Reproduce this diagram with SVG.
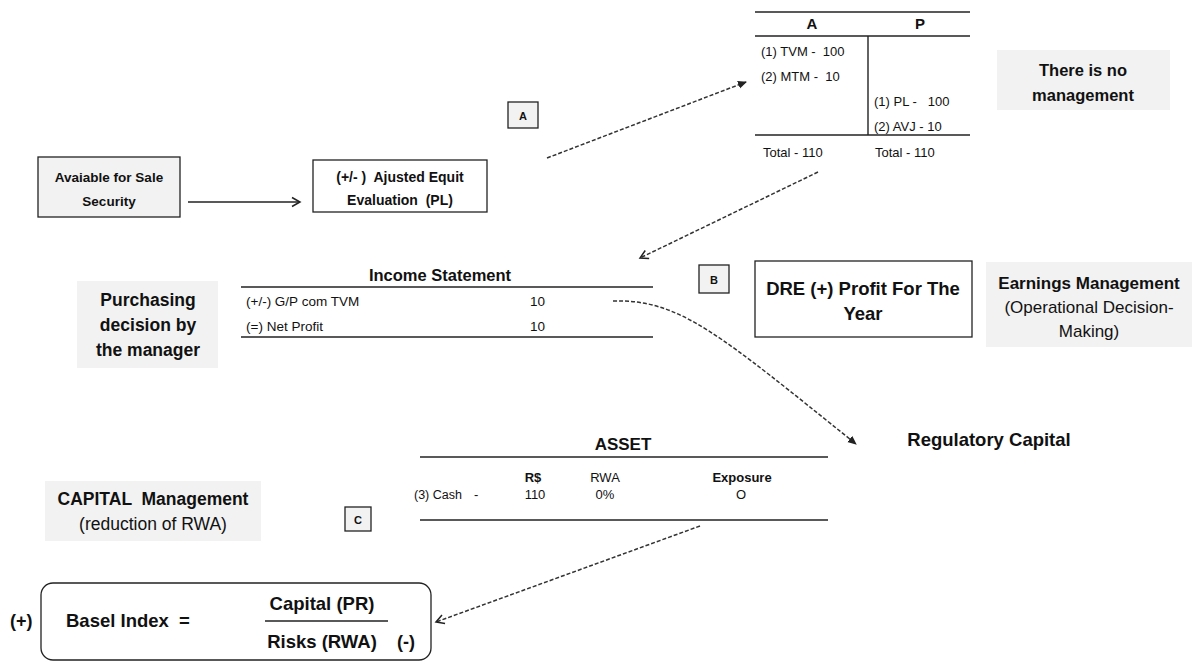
<svg xmlns="http://www.w3.org/2000/svg" width="1198" height="662" viewBox="0 0 1198 662">
<style>
text{white-space:pre}
.t{font-family:"Liberation Sans",Arial,sans-serif;fill:#111}
.b{font-weight:bold}
.s{font-size:13px}
.m{font-size:14px}
.c{text-anchor:middle}
.gray{fill:#f2f2f2;stroke:none}
.box{fill:#fff;stroke:#222;stroke-width:1.3}
.gbox{fill:#f2f2f2;stroke:#222;stroke-width:1.3}
.ln{stroke:#222;stroke-width:1.4;fill:none}
.dash{stroke:#333;stroke-width:1.5;stroke-dasharray:4 2;fill:none}
</style>
<defs>
<marker id="ah" markerWidth="10" markerHeight="10" refX="8" refY="5" orient="auto" markerUnits="userSpaceOnUse">
<path d="M0,1 L9,5 L0,9 Z" fill="#222"/>
</marker>
<marker id="ao" markerWidth="12" markerHeight="12" refX="9" refY="6" orient="auto" markerUnits="userSpaceOnUse">
<path d="M1,1.5 L9,6 L1,10.5" fill="none" stroke="#222" stroke-width="1.5"/>
</marker>
</defs>

<g id="balance-table">
<line class="ln" x1="755" y1="12" x2="970" y2="12"/>
<text class="t b c" x="812" y="29" font-size="15">A</text>
<text class="t b c" x="920" y="29" font-size="15">P</text>
<line class="ln" x1="755" y1="36" x2="970" y2="36"/>
<line class="ln" x1="868" y1="36" x2="868" y2="135"/>
<line class="ln" x1="755" y1="135" x2="970" y2="135"/>
<text class="t s" x="761" y="56">(1) TVM -  100</text>
<text class="t s" x="761" y="81">(2) MTM -  10</text>
<text class="t s" x="874" y="106">(1) PL -   100</text>
<text class="t s" x="874" y="131">(2) AVJ - 10</text>
<text class="t s" x="763" y="157">Total - 110</text>
<text class="t s" x="875" y="157">Total - 110</text>
</g>

<g id="no-management">
<rect class="gray" x="997" y="50" width="173" height="60"/>
<text class="t b c" x="1083" y="76" font-size="16.5">There is no</text>
<text class="t b c" x="1083" y="101" font-size="16.5">management</text>
</g>

<g id="label-a">
<rect class="gbox" x="508" y="102" width="30" height="26"/>
<text class="t b c" x="523" y="120" font-size="11">A</text>
</g>

<g id="afs">
<rect class="gbox" x="38" y="157" width="142" height="60"/>
<text class="t b c" x="109" y="182" font-size="13.5">Avaiable for Sale</text>
<text class="t b c" x="109" y="206" font-size="13.5">Security</text>
</g>

<g id="ajusted">
<rect class="box" x="313" y="160" width="174" height="52"/>
<text class="t b m c" x="400" y="182">(+/- )  Ajusted Equit</text>
<text class="t b m c" x="400" y="205">Evaluation  (PL)</text>
</g>

<g id="income-statement">
<text class="t b c" x="440" y="281" font-size="16.5">Income Statement</text>
<line class="ln" x1="241" y1="287" x2="653" y2="287"/>
<text class="t" x="246" y="306" font-size="13.5">(+/-) G/P com TVM</text>
<text class="t" x="530" y="306" font-size="13.5">10</text>
<text class="t" x="246" y="331" font-size="13.5">(=) Net Profit</text>
<text class="t" x="530" y="331" font-size="13.5">10</text>
<line class="ln" x1="241" y1="337" x2="653" y2="337"/>
</g>

<g id="purchasing">
<rect class="gray" x="77" y="281" width="141" height="87"/>
<text class="t b c" x="148" y="306" font-size="17.5">Purchasing</text>
<text class="t b c" x="148" y="331" font-size="17.5">decision by</text>
<text class="t b c" x="148" y="356" font-size="17.5">the manager</text>
</g>

<g id="label-b">
<rect class="gbox" x="699" y="265" width="30" height="28"/>
<text class="t b c" x="714" y="284" font-size="11">B</text>
</g>

<g id="dre">
<rect class="box" x="755" y="261" width="217" height="76"/>
<text class="t b c" x="863" y="295" font-size="18.5">DRE (+) Profit For The</text>
<text class="t b c" x="863" y="320" font-size="18.5">Year</text>
</g>

<g id="earnings">
<rect class="gray" x="986" y="262" width="206" height="85"/>
<text class="t b c" x="1089" y="289" font-size="17">Earnings Management</text>
<text class="t c" x="1089" y="313" font-size="17">(Operational Decision-</text>
<text class="t c" x="1089" y="337" font-size="17">Making)</text>
</g>

<g id="regulatory">
<text class="t b c" x="989" y="446" font-size="18.5">Regulatory Capital</text>
</g>

<g id="asset-table">
<text class="t b c" x="623" y="450" font-size="17">ASSET</text>
<line class="ln" x1="420" y1="457" x2="828" y2="457"/>
<text class="t b s c" x="533" y="482">R$</text>
<text class="t s c" x="605" y="482">RWA</text>
<text class="t b s c" x="742" y="482">Exposure</text>
<text class="t" x="414" y="499" font-size="12.5">(3) Cash</text>
<text class="t s" x="474" y="499">-</text>
<text class="t s c" x="535" y="499">110</text>
<text class="t s c" x="605" y="499">0%</text>
<text class="t s c" x="741" y="499">O</text>
<line class="ln" x1="420" y1="520" x2="828" y2="520"/>
</g>

<g id="capital-mgmt">
<rect class="gray" x="45" y="481" width="216" height="60"/>
<text class="t b c" x="153" y="505" font-size="17.5">CAPITAL  Management</text>
<text class="t c" x="153" y="530" font-size="17.5">(reduction of RWA)</text>
</g>

<g id="label-c">
<rect class="gbox" x="345" y="507" width="26" height="24"/>
<text class="t b c" x="358" y="524" font-size="11">C</text>
</g>

<g id="basel">
<text class="t b" x="10" y="627" font-size="18">(+)</text>
<rect class="box" x="41" y="583" width="390" height="77" rx="12"/>
<text class="t b" x="66" y="627" font-size="18.5">Basel Index  =</text>
<text class="t b c" x="322" y="610" font-size="18.5">Capital (PR)</text>
<line class="ln" x1="265" y1="621" x2="388" y2="621"/>
<text class="t b c" x="322" y="648" font-size="18.5">Risks (RWA)</text>
<text class="t b" x="397" y="648" font-size="18">(-)</text>
</g>

<g id="connectors">
<line class="ln" x1="188" y1="202" x2="300" y2="202" marker-end="url(#ao)"/>
<line class="dash" x1="547" y1="158" x2="746" y2="82" marker-end="url(#ah)"/>
<line class="dash" x1="818" y1="172" x2="640" y2="258" marker-end="url(#ao)"/>
<path class="dash" d="M613,301 C680,299 720,335 856,444" marker-end="url(#ah)"/>
<line class="dash" x1="700" y1="526" x2="436" y2="622" marker-end="url(#ao)"/>
</g>
</svg>
